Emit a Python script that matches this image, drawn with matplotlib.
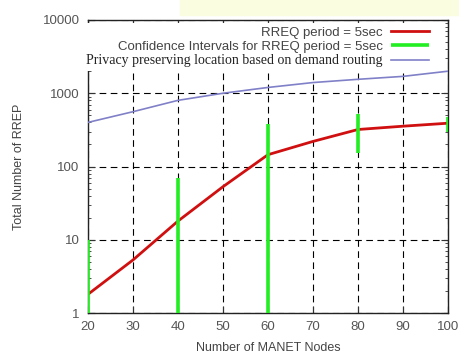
import numpy as np
import matplotlib.pyplot as plt
from matplotlib.patches import Rectangle
from matplotlib.ticker import FixedLocator, FixedFormatter, LogLocator, NullFormatter

nodes = [20, 30, 40, 50, 60, 70, 80, 90, 100]
rreq_5sec = [1.8, 5.3, 18, 53, 145, 220, 320, 355, 390]
privacy_routing = [400, 560, 800, 1000, 1200, 1400, 1550, 1700, 2000]

ci_nodes = [20, 40, 60, 80, 100]
ci_low = [1, 1, 1, 155, 295]
ci_high = [10, 70, 380, 520, 480]

yticks = [1, 10, 100, 1000, 10000]
ytick_labels = ["1", "10", "100", "1000", "10000"]

plt.rcParams['font.family'] = ['Liberation Sans', 'DejaVu Sans']

fig = plt.figure(figsize=(4.6, 3.56), dpi=100)
# faint yellow highlight strip along the top edge
fig.patches.append(Rectangle((180 / 460, 1 - 15 / 356), 1, 15 / 356,
                             transform=fig.transFigure, color="#fbfde0", zorder=0))
ax = fig.add_axes([88 / 460, 43 / 356, 360 / 460, 293 / 356])

ax.plot(nodes, rreq_5sec, color="#d01010", lw=2, label="RREQ period = 5sec", zorder=3)
ax.vlines(ci_nodes, ci_low, ci_high, color="#22ee22", lw=2.6,
          label="Confidence Intervals for RREQ period = 5sec", zorder=4)
ax.plot(nodes, privacy_routing, color="#8080c8", lw=1.2,
        label="Privacy preserving location based on demand routing", zorder=3)

ax.set_yscale("log")
ax.set_xlim(20, 100)
ax.set_ylim(1, 10000)
ax.set_xticks(range(20, 101, 10))
ax.yaxis.set_major_locator(FixedLocator(yticks))
ax.yaxis.set_major_formatter(FixedFormatter(ytick_labels))
ax.yaxis.set_minor_locator(LogLocator(base=10, subs=np.arange(2, 10)))
ax.yaxis.set_minor_formatter(NullFormatter())

ax.grid(True, which="major", color="black", linestyle=(0, (6, 4)), lw=0.8)
ax.tick_params(which="both", direction="in", top=True, right=True, labelsize=9.5,
               colors="#333333", labelcolor="#555555")
ax.tick_params(which="major", length=5, pad=6)
ax.tick_params(which="minor", length=2.5)
for s in ax.spines.values():
    s.set_linewidth(1.0)
    s.set_color("#222222")

ax.set_xlabel("Number of MANET Nodes", fontsize=9, color="#444444", labelpad=6)
ax.set_ylabel("Total Number of RREP", fontsize=9, color="#444444", labelpad=13)

leg = ax.legend(loc="upper right", frameon=True, markerfirst=False, fontsize=9.5,
                handlelength=2.9, handletextpad=0.6, labelspacing=0.12,
                borderaxespad=0.25, borderpad=0.25, fancybox=False,
                bbox_to_anchor=(0.965, 1.0))
leg.get_frame().set_facecolor("white")
leg.get_frame().set_edgecolor("none")
leg.get_frame().set_alpha(1)
leg.set_zorder(2.5)
for t in leg.get_texts():
    t.set_color("#444444")
leg.get_texts()[2].set_fontfamily(["Liberation Serif", "DejaVu Serif"])
leg.get_texts()[2].set_fontsize(10)
leg.get_texts()[2].set_color("#222222")

fig.savefig("out.png", dpi=100)
